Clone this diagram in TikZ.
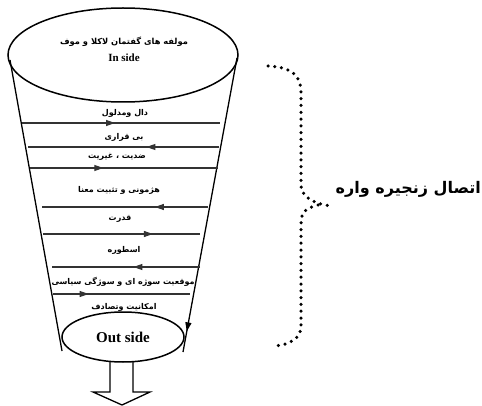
\documentclass[tikz,border=0pt]{standalone}
\usepackage{fontspec}
\setmainfont{Liberation Serif}
\newfontfamily\farsi[Script=Arabic]{DejaVu Sans}
\TeXXeTstate=1
\usetikzlibrary{arrows.meta,decorations.markings,shapes.geometric}

\begin{document}
\begin{tikzpicture}[x=1pt,y=-1pt,
    edge/.style={line width=1.3pt},
    rowline/.style={line width=1.1pt,draw=black!80,postaction={decorate},
      decoration={markings,mark=at position #1 with {\arrow{Triangle[length=9pt,width=6pt]}}}},
    rowlabel/.style={font=\farsi\bfseries\fontsize{8}{9}\selectfont,inner sep=0pt},
    dots/.style={line width=3.5pt,line cap=round,dash pattern=on 0pt off 6.8pt}]
  \useasboundingbox (0,0) rectangle (482,406);

  % arrow out of the bottom
  \draw[edge,fill=white] (110,356) -- (110,392) -- (93,392) -- (122,405) -- (150,392) -- (133,392) -- (133,356);

  % cone
  \coordinate (tl) at (10,60);
  \coordinate (bl) at (62,351);
  \coordinate (tr) at (237,58);
  \coordinate (br) at (183,352);
  \draw[edge] (tl) -- (bl);
  \draw[edge,postaction={decorate},decoration={markings,mark=at position 0.93 with {\arrow{Triangle[length=9pt,width=6pt]}}}] (tr) -- (br);

  \node[draw,ellipse,line width=1.5pt,minimum width=230pt,minimum height=94pt] (inside) at (123,55) {};
  \node[font=\farsi\bfseries\fontsize{8.3}{9}\selectfont,inner sep=0pt] (title) at (124,42) {\beginR مولفه های گفتمان لاکلا و موف\endR};
  \node[font=\bfseries\fontsize{11}{12}\selectfont,inner sep=0pt] (inlabel) at (124,58) {In side};
  \node[draw,ellipse,fill=white,line width=1.5pt,minimum width=122pt,minimum height=50pt,font=\bfseries\fontsize{15}{16}\selectfont] (outside) at (123,337) {Out side};

  % rows: y / from / to / arrow position / label y / label x / text
  \foreach \y/\xa/\xb/\p/\ly/\lx/\txt [count=\i] in {
      123/22/220/0.47/113/125/{دال ومدلول},
      147/219/28/0.38/137/124/{بی قراری},
      168/30/218/0.39/157/117/{ضدیت ، غیریت},
      207/208/42/0.32/190/119/{هژمونی و تثبیت معنا},
      234/43/200/0.70/219/120/{قدرت},
      267/200/52/0.45/250/124/{اسطوره},
      294/53/190/0.26/282/123/{موقعیت سوژه ای و سوژگی سیاسی}}{
    \coordinate (rs\i) at (\xa,\y);
    \coordinate (re\i) at (\xb,\y);
    \draw[rowline=\p] (rs\i) -- (re\i);
    \node[rowlabel] (row\i) at (\lx,\ly) {\beginR\txt\endR};
  }
  \node[rowlabel] (row8) at (124,307) {\beginR امکانیت وتصادف\endR};

  % brace
  \coordinate (bracetop) at (268,66);
  \coordinate (bracetip) at (333,206);
  \coordinate (bracebot) at (274,346);
  \draw[dots] (bracetop) .. controls (292,67) and (301,76) .. (301,92) -- (301,186) .. controls (302,199) and (318,205) .. (bracetip);
  \draw[dots] (318,205) .. controls (305,208) and (301,213) .. (301,224) -- (301,326) .. controls (301,338) and (290,345) .. (bracebot);
  \node[font=\farsi\bfseries\fontsize{16}{18}\selectfont,anchor=east,inner sep=1pt] (link) at (482,189) {\beginR اتصال زنجیره واره\endR};
\end{tikzpicture}
\end{document}
